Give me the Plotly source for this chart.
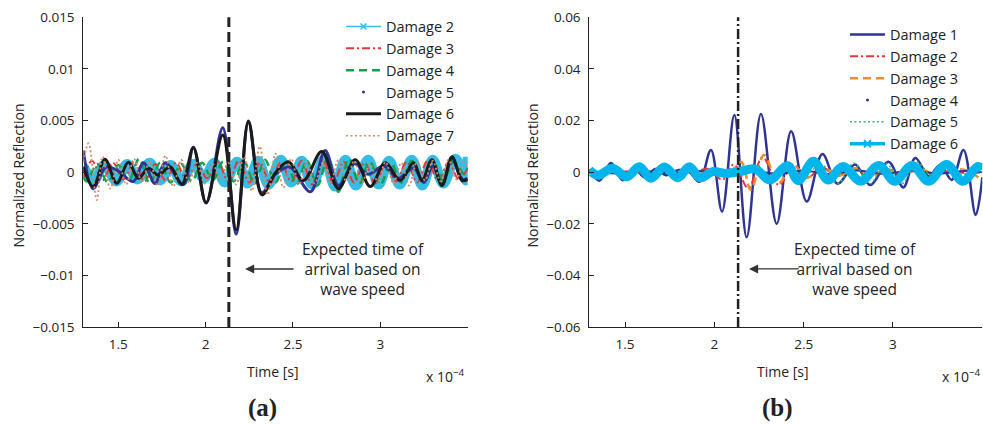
import plotly.graph_objects as go

W, H = 983, 424

# ---------------- data (time in units of 1e-4 s) ----------------
# Panel (a)
a_d2_t = [1.30, 1.36, 1.42, 1.49, 1.55, 1.61, 1.68, 1.74, 1.80, 1.86, 1.93, 1.99, 2.05, 2.11, 2.18,
          2.24, 2.30, 2.36, 2.43, 2.49, 2.55, 2.61, 2.68, 2.74, 2.80, 2.86, 2.93, 2.99, 3.05, 3.11,
          3.18, 3.24, 3.30, 3.36, 3.43, 3.49, 3.50]
a_d2_v = [0.0006, -0.0008, 0.0007, -0.0009, 0.0008, -0.0007, 0.0009, -0.0008, 0.0007, -0.0009,
          0.0008, -0.0006, 0.0009, -0.0010, 0.0010, -0.0011, 0.0011, -0.0012, 0.0012, -0.0010,
          0.0011, -0.0012, 0.0013, -0.0014, 0.0012, -0.0013, 0.0012, -0.0012, 0.0011, -0.0012,
          0.0012, -0.0013, 0.0012, -0.0011, 0.0013, -0.0008, 0.0015]

a_d3_t = [1.30, 1.35, 1.41, 1.47, 1.53, 1.59, 1.65, 1.71, 1.77, 1.83, 1.89, 1.95, 2.01, 2.07, 2.13,
          2.19, 2.25, 2.31, 2.37, 2.43, 2.49, 2.55, 2.61, 2.67, 2.73, 2.79, 2.85, 2.91, 2.97, 3.03,
          3.09, 3.15, 3.21, 3.27, 3.33, 3.39, 3.45, 3.50]
a_d3_v = [-0.0006, 0.0011, -0.0008, 0.0009, -0.0007, 0.0010, -0.0009, 0.0008, -0.0008, 0.0009,
          -0.0007, 0.0008, -0.0006, 0.0010, -0.0009, 0.0011, -0.0010, 0.0009, -0.0011, 0.0010,
          -0.0009, 0.0011, -0.0012, 0.0012, -0.0011, 0.0010, -0.0010, 0.0009, -0.0011, 0.0008,
          -0.0009, 0.0010, -0.0010, 0.0011, -0.0008, 0.0009, -0.0007, 0.0004]

a_d4_t = [1.30, 1.32, 1.38, 1.44, 1.50, 1.56, 1.62, 1.68, 1.74, 1.80, 1.86, 1.92, 1.98, 2.04, 2.10,
          2.16, 2.22, 2.28, 2.34, 2.40, 2.46, 2.52, 2.58, 2.64, 2.70, 2.76, 2.82, 2.88, 2.94, 3.00,
          3.06, 3.12, 3.18, 3.24, 3.30, 3.36, 3.42, 3.48, 3.50]
a_d4_v = [-0.0005, -0.0009, 0.0008, -0.0010, 0.0007, -0.0008, 0.0013, -0.0011, 0.0009, -0.0010,
          0.0008, -0.0009, 0.0009, -0.0008, 0.0010, -0.0009, 0.0010, -0.0011, 0.0012, -0.0010,
          0.0011, -0.0012, 0.0011, -0.0013, 0.0014, -0.0019, 0.0013, -0.0011, 0.0010, -0.0012,
          0.0009, -0.0010, 0.0011, -0.0009, 0.0010, -0.0008, 0.0010, -0.0002, 0.0004]

a_d5_t = [1.30, 1.356, 1.43, 1.50, 1.586, 1.644, 1.71, 1.768, 1.873, 1.93, 2.003, 2.098, 2.175,
          2.245, 2.322, 2.40, 2.48, 2.60, 2.684, 2.76, 2.85, 2.93, 3.02, 3.10, 3.19, 3.25, 3.30,
          3.352, 3.41, 3.47, 3.50]
a_d5_v = [0.0021, -0.0016, 0.0005, 0.0001, -0.0009, 0.0009, -0.0011, 0.0009, -0.0012, 0.0024,
          -0.0030, 0.0043, -0.0060, 0.0048, -0.0020, -0.0002, 0.0005, -0.0019, 0.0021, -0.0013,
          0.0008, -0.0002, 0.0006, -0.0006, 0.0004, -0.0010, 0.0006, -0.0012, 0.0013, -0.0007,
          -0.0006]

a_d6_t = [1.30, 1.357, 1.424, 1.491, 1.558, 1.615, 1.672, 1.730, 1.797, 1.864, 1.930, 2.003, 2.098,
          2.175, 2.245, 2.322, 2.398, 2.474, 2.56, 2.665, 2.760, 2.856, 2.942, 3.028, 3.114, 3.19,
          3.238, 3.295, 3.353, 3.41, 3.467, 3.50]
a_d6_v = [0.0005, -0.0014, 0.00124, -0.00108, 0.00095, -0.0006, 0.00037, -0.00028, 0.00053,
          -0.00118, 0.00237, -0.00296, 0.0036, -0.0056, 0.00496, -0.0022, -0.0001, 0.0010, -0.0008,
          0.0020, -0.0016, 0.0012, -0.0014, 0.0009, -0.0008, 0.0009, -0.0008, 0.0012, -0.0013,
          0.0015, -0.0008, -0.0007]

a_d7_t = [1.30, 1.33, 1.377, 1.41, 1.455, 1.50, 1.545, 1.59, 1.635, 1.68, 1.725, 1.77, 1.815, 1.86,
          1.905, 1.95, 1.995, 2.04, 2.085, 2.13, 2.175, 2.22, 2.265, 2.31, 2.355, 2.40, 2.445, 2.49,
          2.535, 2.58, 2.625, 2.67, 2.715, 2.76, 2.805, 2.85, 2.895, 2.94, 2.985, 3.03, 3.075, 3.12,
          3.165, 3.21, 3.255, 3.30, 3.345, 3.39, 3.435, 3.48, 3.50]
a_d7_v = [0.0010, 0.0028, -0.0027, 0.0015, -0.0016, 0.0012, -0.0012, 0.0013, -0.0010, 0.0011,
          -0.0013, 0.0016, -0.0014, 0.0012, -0.0010, 0.0009, -0.0011, 0.0008, -0.0007, 0.0009,
          -0.0012, 0.0015, -0.0018, 0.0025, -0.0022, 0.0018, -0.0015, 0.0013, -0.0012, 0.0010,
          -0.0011, 0.0009, -0.0010, 0.0012, -0.0009, 0.0011, -0.0010, 0.0008, -0.0009, 0.0010,
          -0.0011, 0.0009, -0.0013, 0.0010, -0.0008, 0.0011, -0.0009, 0.0012, -0.0007, 0.0010,
          0.0004]

# Panel (b)
b_d1_t = [1.30, 1.356, 1.421, 1.487, 1.55, 1.61, 1.67, 1.73, 1.80, 1.86, 1.916, 1.981, 2.043,
          2.112, 2.181, 2.261, 2.349, 2.430, 2.517, 2.605, 2.690, 2.788, 2.872, 2.975, 3.058,
          3.125, 3.20, 3.264, 3.329, 3.395, 3.463, 3.50]
b_d1_v = [0.0012, -0.0033, 0.0035, -0.0031, 0.0015, -0.0020, 0.0012, -0.0012, 0.0008, 0.0000,
          -0.0037, 0.0086, -0.0153, 0.0221, -0.0252, 0.0225, -0.0200, 0.0158, -0.0114, 0.0070,
          -0.0045, 0.0030, -0.0050, 0.0040, -0.0059, 0.0055, -0.0015, 0.0028, -0.0030, 0.0086,
          -0.0166, -0.0020]

b_d2_t = [1.30, 1.40, 1.50, 1.60, 1.70, 1.80, 1.90, 1.97, 2.045, 2.11, 2.19, 2.27, 2.362, 2.44,
          2.52, 2.60, 2.69, 2.78, 2.87, 2.96, 3.05, 3.14, 3.23, 3.32, 3.41, 3.50]
b_d2_v = [0.0003, -0.0003, 0.0003, -0.0002, 0.0003, -0.0003, 0.0004, 0.0012, -0.0030, 0.0030,
          -0.0062, 0.0058, -0.0050, 0.0030, -0.0022, 0.0018, -0.0015, 0.0015, -0.0012, 0.0014,
          -0.0012, 0.0012, -0.0008, 0.0005, -0.0004, 0.0000]

b_d3_t = [1.30, 1.40, 1.50, 1.60, 1.70, 1.80, 1.90, 2.00, 2.07, 2.149, 2.204, 2.278, 2.36, 2.44,
          2.52, 2.61, 2.70, 2.79, 2.88, 2.97, 3.06, 3.15, 3.24, 3.33, 3.42, 3.50]
b_d3_v = [0.0002, -0.0002, 0.0003, -0.0003, 0.0002, -0.0002, 0.0003, -0.0002, -0.0015, 0.0040,
          -0.0069, 0.0066, -0.0042, 0.0028, -0.0020, 0.0015, -0.0013, 0.0014, -0.0012, 0.0011,
          -0.0010, 0.0012, -0.0010, 0.0010, 0.0006, -0.0035]

b_d4_t = [1.30, 1.45, 1.60, 1.75, 1.90, 2.05, 2.20, 2.35, 2.50, 2.65, 2.80, 2.95, 3.10, 3.25,
          3.40, 3.50]
b_d4_v = [0.0003, -0.0005, 0.0004, -0.0005, 0.0004, -0.0006, 0.0005, -0.0006, 0.0005, -0.0007,
          0.0006, -0.0007, 0.0006, -0.0005, 0.0004, 0.0000]

b_d5_t = [1.30, 1.40, 1.50, 1.60, 1.70, 1.80, 1.90, 2.00, 2.10, 2.20, 2.30, 2.40, 2.50, 2.60,
          2.69, 2.78, 2.87, 2.96, 3.05, 3.13, 3.22, 3.30, 3.38, 3.46, 3.50]
b_d5_v = [0.0000, 0.0005, -0.0005, 0.0006, -0.0005, 0.0005, -0.0006, 0.0008, -0.0010, 0.0012,
          -0.0015, 0.0015, -0.0015, 0.0030, -0.0045, 0.0035, -0.0045, 0.0035, -0.0045, 0.0040,
          -0.0015, 0.0020, -0.0010, 0.0010, 0.0000]

b_d6_t = [1.30, 1.35, 1.43, 1.51, 1.58, 1.645, 1.72, 1.795, 1.86, 1.92, 1.99, 2.06, 2.14, 2.23,
          2.31, 2.41, 2.47, 2.554, 2.637, 2.72, 2.82, 2.92, 3.01, 3.106, 3.199, 3.30, 3.39, 3.475,
          3.50]
b_d6_v = [0.0008, -0.0012, 0.0015, -0.0018, 0.0021, -0.0024, 0.0020, -0.0022, 0.0021, -0.0022,
          0.0002, -0.0005, 0.0002, 0.0012, -0.0030, 0.0025, -0.0033, 0.0042, -0.0030, 0.0022,
          -0.0035, 0.0026, -0.0035, 0.0026, -0.0035, 0.0030, -0.0035, 0.0022, 0.0012]

x_ticks = [1.5, 2, 2.5, 3]
x_tick_text = ["1.5", "2", "2.5", "3"]
a_y_ticks = [-0.015, -0.01, -0.005, 0, 0.005, 0.01, 0.015]
a_y_text = ["\u22120.015", "\u22120.01", "\u22120.005", "0", "0.005", "0.01", "0.015"]
b_y_ticks = [-0.06, -0.04, -0.02, 0, 0.02, 0.04, 0.06]
b_y_text = ["\u22120.06", "\u22120.04", "\u22120.02", "0", "0.02", "0.04", "0.06"]
arrival_time = 2.133
a_labels = ["Damage 2", "Damage 3", "Damage 4", "Damage 5", "Damage 6", "Damage 7"]
b_labels = ["Damage 1", "Damage 2", "Damage 3", "Damage 4", "Damage 5", "Damage 6"]

# ---------------- styles ----------------
FONT = "Open Sans"
TXT = "#222222"
CYAN_A = "#35bde3"
CYAN_B = "#00b5ec"
RED = "#ee3338"
GREEN = "#12a04a"
NAVY = "#2e3592"
BLACK = "#1a1a1a"
BROWN = "#d58a68"
ORANGE = "#e8902a"
GREEN_B = "#35b47a"

fig = go.Figure()


def add(t, v, xa, ya, color, width, dash="solid"):
    fig.add_trace(go.Scatter(x=t, y=v, xaxis=xa, yaxis=ya, mode="lines",
                             line=dict(color=color, width=width, dash=dash, shape="spline"),
                             showlegend=False, hoverinfo="skip"))


DASHDOT = "8px,3px,2px,3px"
DASHED = "8px,5px"
DOTTED = "2px,2.5px"

# panel (a) traces
add(a_d2_t, a_d2_v, "x", "y", CYAN_A, 10)
add(a_d3_t, a_d3_v, "x", "y", RED, 2, DASHDOT)
add(a_d4_t, a_d4_v, "x", "y", GREEN, 2.5, DASHED)
add(a_d5_t, a_d5_v, "x", "y", NAVY, 3)
add(a_d6_t, a_d6_v, "x", "y", BLACK, 3)
add(a_d7_t, a_d7_v, "x", "y", BROWN, 1.8, DOTTED)

# panel (b) traces
add(b_d1_t, b_d1_v, "x2", "y2", NAVY, 2.5)
add(b_d2_t, b_d2_v, "x2", "y2", RED, 2, DASHDOT)
add(b_d3_t, b_d3_v, "x2", "y2", ORANGE, 2.5, DASHED)
add(b_d4_t, b_d4_v, "x2", "y2", NAVY, 2)
add(b_d5_t, b_d5_v, "x2", "y2", GREEN_B, 1.5, DOTTED)
add(b_d6_t, b_d6_v, "x2", "y2", CYAN_B, 9)


# legend proxies
def proxy(name, legend, xa, ya, mode, line=None, marker=None):
    fig.add_trace(go.Scatter(x=[None], y=[None], xaxis=xa, yaxis=ya, name=name, mode=mode,
                             line=line, marker=marker, legend=legend, showlegend=True))


proxy(a_labels[0], "legend", "x", "y", "lines+markers", dict(color=CYAN_A, width=1.5),
      dict(symbol="x-thin", size=6, line=dict(color=CYAN_A, width=1.5)))
proxy(a_labels[1], "legend", "x", "y", "lines", dict(color=RED, width=2, dash=DASHDOT))
proxy(a_labels[2], "legend", "x", "y", "lines", dict(color=GREEN, width=2.5, dash=DASHED))
proxy(a_labels[3], "legend", "x", "y", "markers", None, dict(color=NAVY, size=3))
proxy(a_labels[4], "legend", "x", "y", "lines", dict(color=BLACK, width=3))
proxy(a_labels[5], "legend", "x", "y", "lines", dict(color=BROWN, width=1.5, dash=DOTTED))

proxy(b_labels[0], "legend2", "x2", "y2", "lines", dict(color=NAVY, width=2.5))
proxy(b_labels[1], "legend2", "x2", "y2", "lines", dict(color=RED, width=2, dash=DASHDOT))
proxy(b_labels[2], "legend2", "x2", "y2", "lines", dict(color=ORANGE, width=2.5, dash=DASHED))
proxy(b_labels[3], "legend2", "x2", "y2", "markers", None, dict(color=NAVY, size=3))
proxy(b_labels[4], "legend2", "x2", "y2", "lines", dict(color=GREEN_B, width=1.5, dash=DOTTED))
proxy(b_labels[5], "legend2", "x2", "y2", "lines+markers", dict(color=CYAN_B, width=3.5),
      dict(symbol="x-thin", size=7, line=dict(color=CYAN_B, width=2)))


def px(x):
    return x / W


def py(y):
    return 1 - y / H


ydom = [py(327), py(17.3)]
axis_common = dict(showline=True, linecolor=TXT, linewidth=1, ticks="inside", ticklen=5,
                   tickcolor=TXT, showgrid=False, zeroline=False, automargin=False,
                   tickfont=dict(family=FONT, size=13.5, color=TXT), ticklabelstandoff=5)

legend_common = dict(bgcolor="rgba(0,0,0,0)", font=dict(family=FONT, size=14.5, color=TXT),
                     tracegroupgap=0, xanchor="left", yanchor="top", itemwidth=35,
                     xref="paper", yref="paper")

fig.update_layout(
    width=W, height=H, margin=dict(l=0, r=0, t=0, b=0, pad=0), autosize=False,
    paper_bgcolor="white", plot_bgcolor="white",
    xaxis=dict(domain=[px(83.3), px(467.7)], range=[1.3, 3.5], tickvals=x_ticks,
               ticktext=x_tick_text, anchor="y", **axis_common),
    yaxis=dict(domain=ydom, range=[-0.015, 0.015], tickvals=a_y_ticks, ticktext=a_y_text,
               anchor="x", **axis_common),
    xaxis2=dict(domain=[px(589.3), px(982.3)], range=[1.3, 3.5], tickvals=x_ticks,
                ticktext=x_tick_text, anchor="y2", **axis_common),
    yaxis2=dict(domain=ydom, range=[-0.06, 0.06], tickvals=b_y_ticks, ticktext=b_y_text,
                anchor="x2", **axis_common),
    legend=dict(x=px(341), y=py(10.5), **legend_common),
    legend2=dict(x=px(845), y=py(18.5), **legend_common),
    showlegend=True,
)

# vertical arrival-time lines
fig.add_shape(type="line", xref="x", yref="y domain", x0=arrival_time, x1=arrival_time, y0=0, y1=1,
              line=dict(color=TXT, width=3, dash="10px,5px"))
fig.add_shape(type="line", xref="x2", yref="y2 domain", x0=arrival_time, x1=arrival_time, y0=0,
              y1=1, line=dict(color=TXT, width=2.5, dash="10px,3px,2px,3px"))

note = "Expected time of<br>arrival based on<br>wave speed"
for xa, ya, tip, tail, ytip, xc in [("x", "y", 2.226, 2.512, -0.00938, 2.902),
                                     ("x2", "y2", 2.194, 2.48, -0.0375, 2.79)]:
    fig.add_annotation(x=tip, y=ytip, ax=tail, ay=ytip, xref=xa, yref=ya, axref=xa, ayref=ya,
                       text="", showarrow=True, arrowhead=2, arrowsize=1.4, arrowwidth=1.3,
                       arrowcolor="#333333")
    fig.add_annotation(x=xc, y=ytip, xref=xa, yref=ya, text=note, showarrow=False,
                       font=dict(family=FONT, size=15.5, color=TXT), align="center",
                       xanchor="center", yanchor="middle")


def label(xc, yc, text, size, family=FONT, angle=0, xanchor="center"):
    fig.add_annotation(x=px(xc), y=py(yc), xref="paper", yref="paper", text=text,
                       textangle=angle, showarrow=False, xanchor=xanchor, yanchor="middle",
                       font=dict(family=family, size=size, color=TXT))


for xc in (18, 532):
    label(xc, 175.5, "Normalized Reflection", 14, angle=-90)
for xc in (273, 783):
    label(xc, 371, "Time [s]", 14)
for xr in (467, 983):
    label(xr, 376, "x 10<sup>\u22124</sup>", 14, xanchor="right")
for xc, lab in ((262, "(a)"), (777, "(b)")):
    label(xc, 408, "<b>%s</b>" % lab, 25, family="Liberation Serif")

fig.write_html("out.html")
